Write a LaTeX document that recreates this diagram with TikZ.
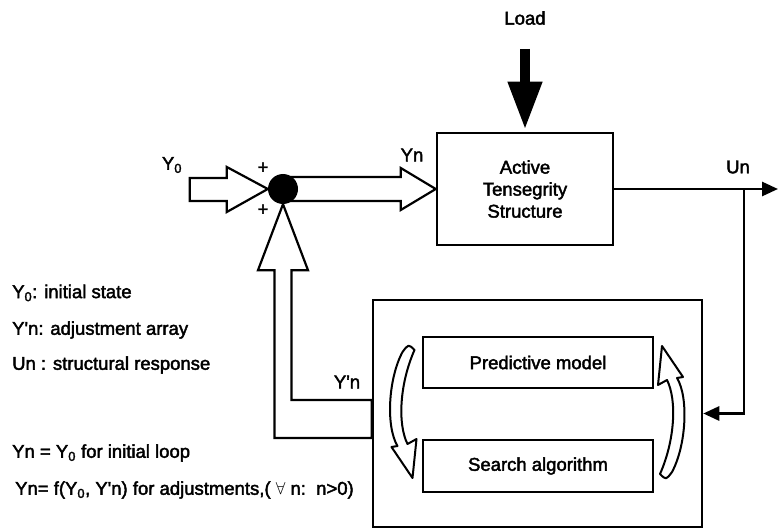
\documentclass[tikz,border=0pt]{standalone}
\usepackage{fontspec}
\setmainfont{Liberation Sans}[FakeBold=2.2]
\usetikzlibrary{arrows.meta,positioning,calc,backgrounds}
\tikzset{
  blockbox/.style={draw, line width=2.5pt, align=center, inner sep=0pt,
    font=\fontsize{18.5}{22}\selectfont},
  hollow/.style={draw, line width=2.2pt, fill=white, line join=miter},
  flow/.style={-{Triangle[length=16pt,width=14pt]}, line width=2.8pt},
  loadflow/.style={-{Triangle[length=48pt,width=32pt]}, line width=10pt},
  lbl/.style={font=\fontsize{18.5}{20}\selectfont, inner sep=0pt},
  legend/.style={lbl, anchor=west},
  cyclearrow/.pic={
    \draw[line width=2pt, fill=white, line join=round]
      (-2,-62) .. controls (-16,-36) and (-19,12) .. (-7,32)
      -- (-13,33) -- (8,64) -- (12,25) -- (3,30)
      .. controls (-7,10) and (-5,-30) .. (10,-64)
      .. controls (4,-70) .. cycle;
  }
}

\begin{document}
\begin{tikzpicture}[x=1pt, y=-1pt]
\useasboundingbox (0,0) rectangle (778,529);

% blocks
\node[circle, fill=black, minimum size=30pt, inner sep=0pt] (sum) at (283,189) {};
\node[blockbox, minimum width=176pt, minimum height=112pt] (ats) at (525,189)
  {Active\\Tensegrity\\Structure};
\node[blockbox, minimum width=329pt, minimum height=227pt] (ctrl) at (537.5,413.5) {};
\node[blockbox, minimum width=230pt, minimum height=51pt] (pred) at (538,362.5) {Predictive model};
\node[blockbox, minimum width=230pt, minimum height=52pt] (search) at (538,466) {Search algorithm};

% labels
\node[lbl] (load) at (525,18) {Load};
\node[lbl] (y0) at (172,165) {Y\textsubscript{0}};
\node[lbl] (yn) at (412,155) {Yn};
\node[lbl] (un) at (738,167) {Un};
\node[lbl] (yprime) at (347,382) {Y\textquotesingle n};
\node[lbl] at (263,168) {+};
\node[lbl] at (263,210) {+};

\coordinate (outend) at (778,189);
\coordinate (split) at (744,189);

% signal arrows
\begin{scope}[on background layer]
\draw[hollow] (sum.west) -- ++(-41,-22) -- ++(0,11) -- ++(-37,0) -- ++(0,23)
  -- ++(37,0) -- ++(0,11) -- cycle;
\draw[hollow] (ats.west) -- ++(-35,-21) -- ++(0,9) -- ($(sum.center)+(0,-12)$)
  -- ($(sum.center)+(0,12)$) -- ($(ats.west)+(-35,12)$) -- ++(0,9) -- cycle;
\draw[hollow] (sum.south) -- ++(25,66) -- ++(-16.5,0) |- ($(ctrl.west)+(0,-13.5)$)
  -- ($(ctrl.west)+(0,24.5)$) -| ($(sum.south)+(-8.5,66)$) -- ++(-16.5,0) -- cycle;
\end{scope}

\draw[loadflow, shorten <=24pt, shorten >=2pt] (load) -- (ats.north);
\draw[flow] (ats.east) -- (outend);
\draw[flow] (split) |- (ctrl.east);

\pic at (404.5,414) {cyclearrow};
\pic[rotate=180] at (670,410) {cyclearrow};

% legend
\node[legend] at (12,293) {Y\textsubscript{0}: initial state};
\node[legend] at (12,330) {Y\textquotesingle n: adjustment array};
\node[legend] at (12,365) {Un : structural response};
\node[legend] at (12,453) {Yn = Y\textsubscript{0} for initial loop};
\node[legend] at (15,490) {Yn= f(Y\textsubscript{0}, Y\textquotesingle n) for adjustments,( $\forall$ n:\ \ n>0)};
\end{tikzpicture}
\end{document}
